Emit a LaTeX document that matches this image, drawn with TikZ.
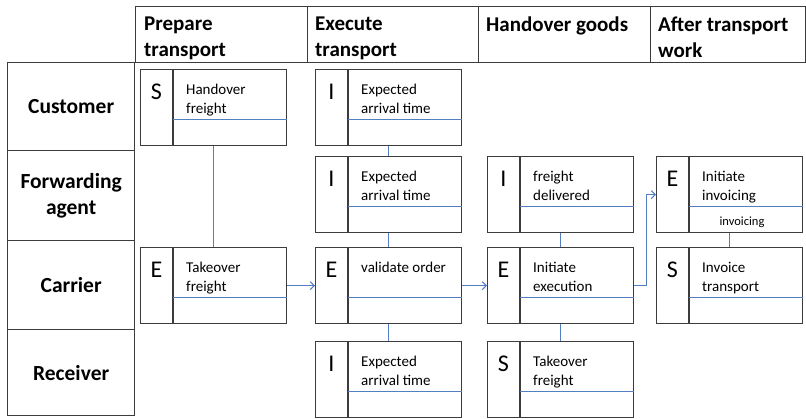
\documentclass[tikz,border=0pt]{standalone}
\usepackage{fontspec}
\setmainfont{Carlito}
\usetikzlibrary{arrows.meta}
\definecolor{frame}{RGB}{60,60,60}
\definecolor{flow}{RGB}{84,126,196}
\tikzset{
  x=1pt, y=-1pt,
  cell/.style={draw=frame, line width=1.3pt, rectangle, inner sep=0pt, anchor=north west},
  headtext/.style={font=\bfseries\fontsize{21}{26}\selectfont, align=left, inner sep=0pt, anchor=north west},
  lanetext/.style={font=\bfseries\fontsize{21.5}{26}\selectfont, align=center, inner sep=0pt},
  actbox/.style={draw=frame, line width=1.3pt, rectangle, inner sep=0pt,
    minimum width=146pt, minimum height=76pt, anchor=north west},
  divider/.style={draw=frame, line width=1.3pt},
  blueline/.style={draw=flow, line width=1pt},
  kindletter/.style={font=\fontsize{24}{24}\selectfont, inner sep=0pt, anchor=base},
  acttext/.style={font=\fontsize{15}{19}\selectfont, align=left, inner sep=0pt, anchor=north west},
  subtext/.style={font=\fontsize{12.5}{14}\selectfont, inner sep=0pt, anchor=base},
  link/.style={draw=flow, line width=1pt},
  flowarrow/.style={draw=flow, line width=1pt, -{Straight Barb[length=4pt,width=8pt]}},
}
% activity box: name, left, top, kind letter, description
\newcommand{\taskbox}[5]{%
  \node[actbox] (#1) at (#2,#3) {};
  \draw[divider] ([xshift=33pt]#1.north west) -- ([xshift=33pt]#1.south west);
  \draw[blueline] ([xshift=33pt,yshift=-50pt]#1.north west) -- ([yshift=-50pt]#1.north east);
  \node[kindletter] (#1-kind) at ([xshift=16.5pt,yshift=-30pt]#1.north west) {#4};
  \node[acttext] (#1-text) at ([xshift=46pt,yshift=-15pt]#1.north west) {#5};
}
\begin{document}
\begin{tikzpicture}
\useasboundingbox (0,0) rectangle (806,418);
\fill[white] (0,0) rectangle (806,418);

% phase header
\node[cell, minimum width=172pt, minimum height=56pt] (h1) at (135,6) {};
\node[cell, minimum width=171pt, minimum height=56pt] (h2) at (307,6) {};
\node[cell, minimum width=172pt, minimum height=56pt] (h3) at (478,6) {};
\node[cell, minimum width=155pt, minimum height=56pt] (h4) at (650,6) {};
\node[headtext] (h1t) at (144,17) {Prepare\\transport};
\node[headtext] (h2t) at (315,17) {Execute\\transport};
\node[headtext] (h3t) at (486,17) {Handover goods};
\node[headtext] (h4t) at (658,17) {After transport\\work};

% roles
\node[cell, minimum width=127pt, minimum height=88pt] (r1) at (7,62) {};
\node[cell, minimum width=127pt, minimum height=90pt] (r2) at (7,150) {};
\node[cell, minimum width=127pt, minimum height=89pt] (r3) at (7,240) {};
\node[cell, minimum width=127pt, minimum height=86pt] (r4) at (7,329) {};
\node[lanetext] at (r1.center) {Customer};
\node[lanetext] at (r2.center) {Forwarding\\agent};
\node[lanetext] at (r3.center) {Carrier};
\node[lanetext] at (r4.center) {Receiver};

% activities
\taskbox{a1}{140}{69}{S}{Handover\\freight}
\taskbox{a2}{140}{247}{E}{Takeover\\freight}
\taskbox{b1}{315}{69}{I}{Expected\\arrival time}
\taskbox{b2}{315}{156}{I}{Expected\\arrival time}
\taskbox{b3}{315}{247}{E}{validate order}
\taskbox{b4}{315}{341}{I}{Expected\\arrival time}
\taskbox{c2}{487}{156}{I}{freight\\delivered}
\taskbox{c3}{487}{247}{E}{Initiate\\execution}
\taskbox{c4}{487}{341}{S}{Takeover\\freight}
\taskbox{d2}{656}{156}{E}{Initiate\\invoicing}
\taskbox{d3}{656}{247}{S}{Invoice\\transport}
\node[subtext] (d2-sub) at (742,225) {invoicing};

% connections
\draw[link] (a1.south) -- (a2.north);
\draw[link] (b1.south) -- (b2.north);
\draw[link] (b2.south) -- (b3.north);
\draw[link] (b3.south) -- (b4.north);
\draw[link] (c2.south) -- (c3.north);
\draw[link] (c3.south) -- (c4.north);
\draw[link] (d2.south) -- (d3.north);
\draw[flowarrow] (a2.east) -- (b3.west);
\draw[flowarrow] (b3.east) -- (c3.west);
\draw[flowarrow] (c3.east) -- ++(12,0) |- (d2.west);
\end{tikzpicture}
\end{document}
